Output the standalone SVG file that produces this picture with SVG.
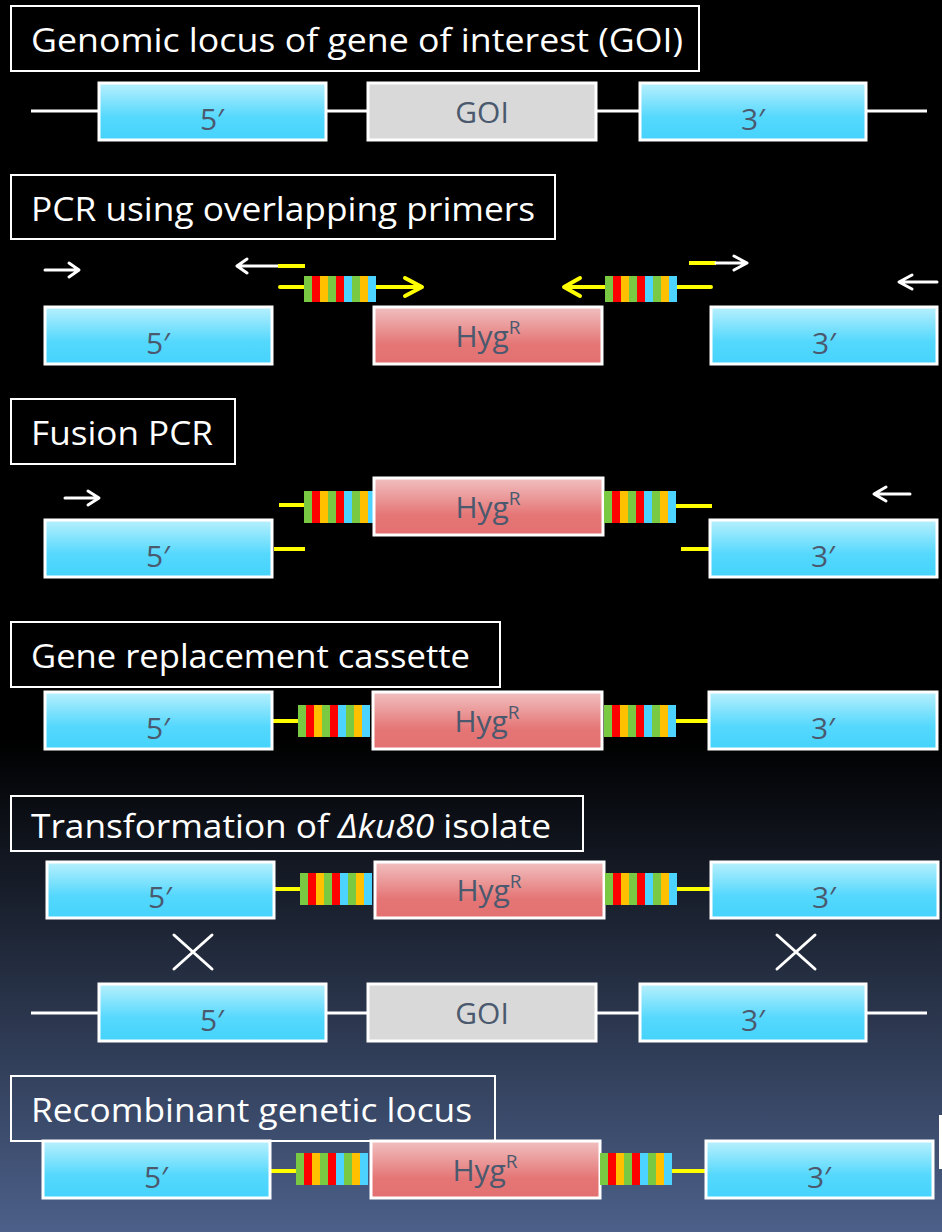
<svg xmlns="http://www.w3.org/2000/svg" xmlns:xlink="http://www.w3.org/1999/xlink" width="942" height="1232" viewBox="0 0 942 1232">
<defs>
<linearGradient id="bg" x1="0" y1="0" x2="0" y2="1232" gradientUnits="userSpaceOnUse">
<stop offset="0" stop-color="#000"/>
<stop offset="0.6" stop-color="#000"/>
<stop offset="1" stop-color="#4c6089"/>
</linearGradient>
<linearGradient id="cyan" x1="0" y1="0" x2="0" y2="1">
<stop offset="0" stop-color="#b8f0fd"/>
<stop offset="0.6" stop-color="#55d8fd"/>
<stop offset="1" stop-color="#45d3fc"/>
</linearGradient>
<linearGradient id="pink" x1="0" y1="0" x2="0" y2="1">
<stop offset="0" stop-color="#f1c0c0"/>
<stop offset="0.65" stop-color="#e57676"/>
<stop offset="1" stop-color="#e37070"/>
</linearGradient>
<symbol id="stripes" viewBox="0 0 72 32" preserveAspectRatio="none" shape-rendering="crispEdges">
<rect x="0" y="0" width="8" height="32" fill="#7ac943"/>
<rect x="8" y="0" width="8" height="32" fill="#ff0000"/>
<rect x="16" y="0" width="8" height="32" fill="#ffc000"/>
<rect x="24" y="0" width="8" height="32" fill="#7ac943"/>
<rect x="32" y="0" width="8" height="32" fill="#ff0000"/>
<rect x="40" y="0" width="8" height="32" fill="#4dd3ff"/>
<rect x="48" y="0" width="8" height="32" fill="#7ac943"/>
<rect x="56" y="0" width="8" height="32" fill="#ffc000"/>
<rect x="64" y="0" width="8" height="32" fill="#4dd3ff"/>
</symbol>
<style>
.title{fill:none;stroke:#fff;stroke-width:2}
.tt{fill:#fff;font-family:"Open Sans","Noto Sans",sans-serif;font-size:32px}
.cy{fill:url(#cyan);stroke:#fff;stroke-width:3}
.pk{fill:url(#pink);stroke:#fff;stroke-width:3}
.gy{fill:#d9d9d9;stroke:#fff;stroke-width:3}
.lbl{fill:#4b596e;font-family:"Open Sans","Noto Sans",sans-serif;font-size:30px;text-anchor:middle}
.sup{font-size:19px}
.wl{stroke:#fff;stroke-width:3;fill:none}
.yl{stroke:#ffff00;stroke-width:4;fill:none}
.wa{stroke:#fff;stroke-width:3;fill:none;stroke-linecap:round;stroke-linejoin:round}
.ya{stroke:#ffff00;stroke-width:4;fill:none;stroke-linecap:round;stroke-linejoin:round}
</style>
</defs>
<rect width="942" height="1232" fill="url(#bg)"/>

<!-- titles -->
<g id="title1"><rect class="title" x="11" y="6" width="688" height="65"/><text class="tt" x="31" y="52" textLength="652" lengthAdjust="spacingAndGlyphs">Genomic locus of gene of interest (GOI)</text></g>
<g id="title2"><rect class="title" x="11" y="175" width="544" height="64"/><text class="tt" x="31" y="221" textLength="504" lengthAdjust="spacingAndGlyphs">PCR using overlapping primers</text></g>
<g id="title3"><rect class="title" x="11" y="399" width="224" height="65"/><text class="tt" x="31" y="445" textLength="182" lengthAdjust="spacingAndGlyphs">Fusion PCR</text></g>
<g id="title4"><rect class="title" x="11" y="622" width="489" height="65"/><text class="tt" x="31" y="668" textLength="439" lengthAdjust="spacingAndGlyphs">Gene replacement cassette</text></g>
<g id="title5"><rect class="title" x="11" y="796" width="572" height="55"/><text class="tt" x="31" y="838" textLength="520" lengthAdjust="spacingAndGlyphs">Transformation of <tspan font-style="italic">Δku80</tspan> isolate</text></g>
<g id="title7"><rect class="title" x="11" y="1076" width="484" height="65"/><text class="tt" x="31" y="1122" textLength="441" lengthAdjust="spacingAndGlyphs">Recombinant genetic locus</text></g>

<!-- connectors: lines, arrows -->
<g id="connectors">
<line class="wl" x1="31" y1="111" x2="927" y2="111"/>
<line class="wl" x1="31" y1="1013" x2="927" y2="1013"/>
<path class="wa" d="M45 270 H78 M69 263 L79 270 L69 277"/>
<path class="wa" d="M278 266 H238 M247 259 L237 266 L247 273"/>
<line class="yl" x1="278" y1="266" x2="305" y2="266"/>
<path class="ya" d="M280 287 H421 M405 278 L422 287 L405 296"/>
<path class="ya" d="M711 287 H566 M580 278 L564 287 L580 296"/>
<line class="yl" x1="689" y1="263" x2="716" y2="263"/>
<path class="wa" d="M716 263 H746 M734 256 L747 263 L734 270"/>
<path class="wa" d="M937 282 H900 M912 275 L899 282 L912 289"/>
<path class="wa" d="M65 498 H98 M88 491 L99 498 L88 505"/>
<path class="wa" d="M910 494 H875 M886 487 L874 494 L886 501"/>
<line class="yl" x1="279" y1="505" x2="305" y2="505"/>
<line class="yl" x1="274" y1="549" x2="305" y2="549"/>
<line class="yl" x1="602" y1="506" x2="712" y2="506"/>
<line class="yl" x1="681" y1="549" x2="710" y2="549"/>
<line class="yl" x1="272" y1="721" x2="300" y2="721"/>
<line class="yl" x1="675" y1="721" x2="709" y2="721"/>
<line class="yl" x1="274" y1="889" x2="302" y2="889"/>
<line class="yl" x1="676" y1="889" x2="711" y2="889"/>
<line class="yl" x1="270" y1="1171" x2="298" y2="1171"/>
<line class="yl" x1="670" y1="1171" x2="706" y2="1171"/>
<path class="wa" d="M174 935 L212 969 M212 935 L174 969"/>
<path class="wa" d="M777 935 L815 969 M815 935 L777 969"/>
</g>

<!-- row 1 -->
<g id="r1-5"><rect class="cy" x="99" y="83" width="227" height="57"/><text class="lbl" x="212" y="130">5′</text></g>
<g id="r1-goi"><rect class="gy" x="368" y="83" width="228" height="57"/><text class="lbl" x="482" y="123">GOI</text></g>
<g id="r1-3"><rect class="cy" x="640" y="83" width="226" height="57"/><text class="lbl" x="753" y="130">3′</text></g>

<!-- row 2 -->
<g id="r2-s1"><use xlink:href="#stripes" x="304" y="276" width="72" height="26"/></g>
<g id="r2-s2"><use xlink:href="#stripes" x="605" y="276" width="72" height="26"/></g>
<g id="r2-5"><rect class="cy" x="45" y="307" width="227" height="57"/><text class="lbl" x="158" y="354">5′</text></g>
<g id="r2-hyg"><rect class="pk" x="374" y="307" width="228" height="57"/><text class="lbl" x="488" y="347">Hyg<tspan class="sup" dy="-13">R</tspan></text></g>
<g id="r2-3"><rect class="cy" x="711" y="307" width="226" height="57"/><text class="lbl" x="824" y="354">3′</text></g>

<!-- row 3 -->
<g id="r3-s1"><use xlink:href="#stripes" x="304" y="491" width="72" height="32"/></g>
<g id="r3-hyg"><rect class="pk" x="374" y="478" width="229" height="57"/><text class="lbl" x="488" y="518">Hyg<tspan class="sup" dy="-13">R</tspan></text></g>
<g id="r3-s2"><use xlink:href="#stripes" x="604" y="491" width="72" height="32"/></g>
<g id="r3-5"><rect class="cy" x="45" y="520" width="227" height="57"/><text class="lbl" x="158" y="567">5′</text></g>
<g id="r3-3"><rect class="cy" x="710" y="520" width="227" height="57"/><text class="lbl" x="823" y="567">3′</text></g>

<!-- row 4 -->
<g id="r4-5"><rect class="cy" x="45" y="692" width="227" height="57"/><text class="lbl" x="158" y="739">5′</text></g>
<g id="r4-s1"><use xlink:href="#stripes" x="298" y="705" width="72" height="32"/></g>
<g id="r4-hyg"><rect class="pk" x="373" y="692" width="229" height="57"/><text class="lbl" x="487" y="732">Hyg<tspan class="sup" dy="-13">R</tspan></text></g>
<g id="r4-s2"><use xlink:href="#stripes" x="604" y="705" width="72" height="32"/></g>
<g id="r4-3"><rect class="cy" x="709" y="692" width="228" height="57"/><text class="lbl" x="823" y="739">3′</text></g>

<!-- row 5 -->
<g id="r5-5"><rect class="cy" x="47" y="862" width="227" height="56"/><text class="lbl" x="160" y="908">5′</text></g>
<g id="r5-s1"><use xlink:href="#stripes" x="300" y="873" width="72" height="32"/></g>
<g id="r5-hyg"><rect class="pk" x="375" y="862" width="229" height="56"/><text class="lbl" x="489" y="901">Hyg<tspan class="sup" dy="-13">R</tspan></text></g>
<g id="r5-s2"><use xlink:href="#stripes" x="605" y="873" width="72" height="32"/></g>
<g id="r5-3"><rect class="cy" x="711" y="862" width="227" height="56"/><text class="lbl" x="824" y="908">3′</text></g>

<!-- row 6 -->
<g id="r6-5"><rect class="cy" x="99" y="984" width="227" height="57"/><text class="lbl" x="212" y="1031">5′</text></g>
<g id="r6-goi"><rect class="gy" x="368" y="984" width="228" height="57"/><text class="lbl" x="482" y="1024">GOI</text></g>
<g id="r6-3"><rect class="cy" x="640" y="984" width="226" height="57"/><text class="lbl" x="753" y="1031">3′</text></g>

<!-- row 7 -->
<g id="r7-5"><rect class="cy" x="43" y="1141" width="227" height="57"/><text class="lbl" x="156" y="1188">5′</text></g>
<g id="r7-s1"><use xlink:href="#stripes" x="296" y="1153" width="72" height="32"/></g>
<g id="r7-hyg"><rect class="pk" x="371" y="1141" width="229" height="57"/><text class="lbl" x="485" y="1181">Hyg<tspan class="sup" dy="-13">R</tspan></text></g>
<g id="r7-s2"><use xlink:href="#stripes" x="600" y="1153" width="72" height="32"/></g>
<g id="r7-3"><rect class="cy" x="706" y="1141" width="227" height="57"/><text class="lbl" x="819" y="1188">3′</text></g>

<g id="edge-box"><rect x="939" y="1115" width="4" height="54" fill="#fff"/></g>
</svg>
